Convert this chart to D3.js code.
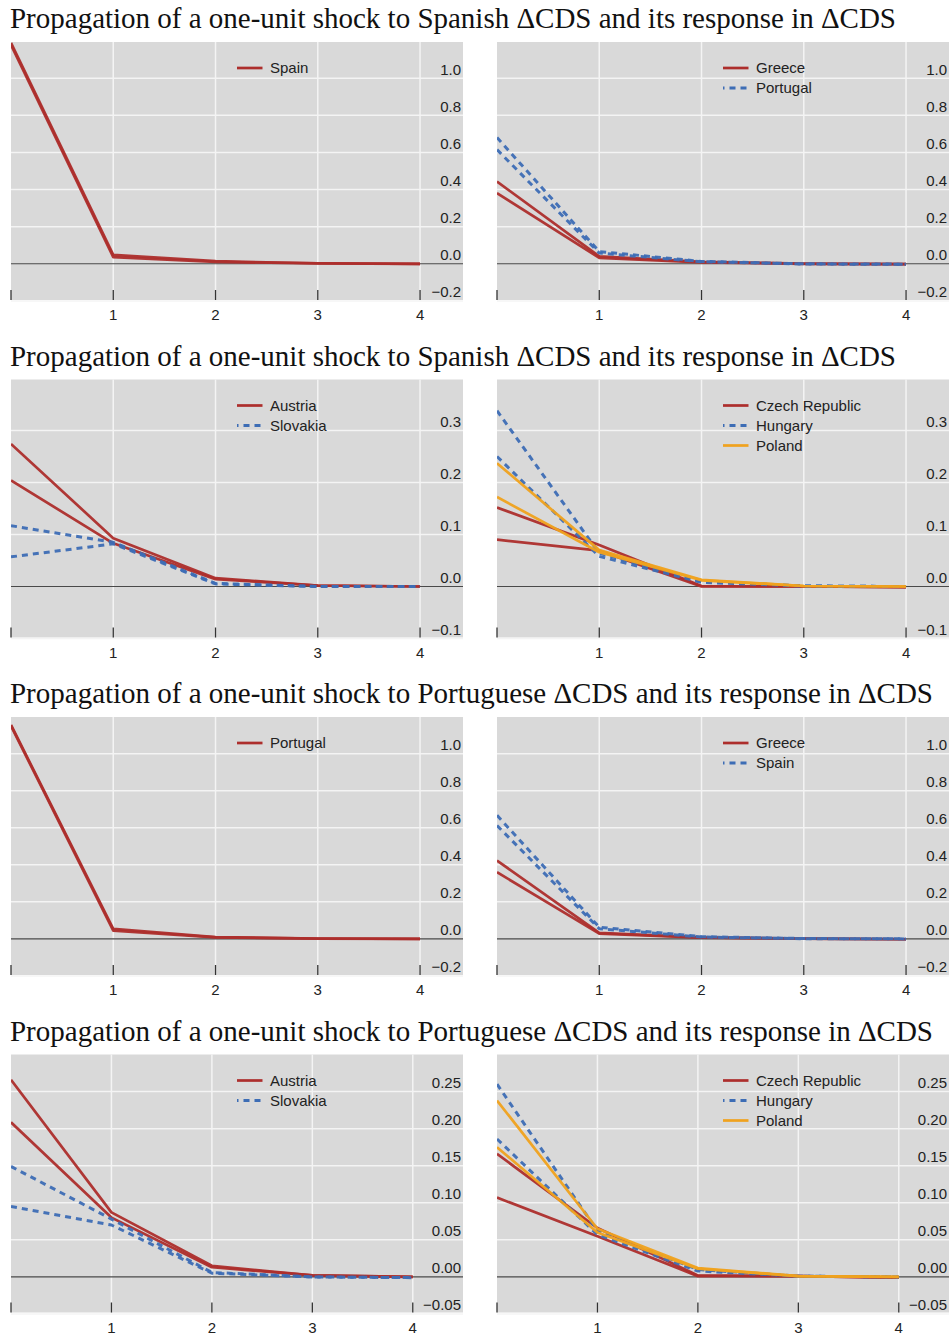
<!DOCTYPE html>
<html>
<head>
<meta charset="utf-8">
<script src="https://cdn.jsdelivr.net/npm/d3@7"></script>
<style>
  html, body { margin: 0; padding: 0; background: #ffffff; }
  svg { display: block; }
</style>
</head>
<body>
<svg id="chart" width="952" height="1336"></svg>
<script>
// ---------------- DATA ----------------
const horizons = [0, 1, 2, 3, 4];
const xTicks = [1, 2, 3, 4];

const titleSpain = "Propagation of a one-unit shock to Spanish \u0394CDS and its response in \u0394CDS";
const titlePortugal = "Propagation of a one-unit shock to Portuguese \u0394CDS and its response in \u0394CDS";

const yTicksLarge = [-0.2, 0.0, 0.2, 0.4, 0.6, 0.8, 1.0];
const yTicksSmall = [-0.1, 0.0, 0.1, 0.2, 0.3];
const yTicksFine = [-0.05, 0.00, 0.05, 0.10, 0.15, 0.20, 0.25];

// Shock to Spain
const esSpain = [[1.19, 0.048, 0.014, 0.003, 0.0], [1.18, 0.036, 0.010, 0.002, 0.0]];
const esGreece = [[0.443, 0.040, 0.010, 0.001, -0.002], [0.381, 0.032, 0.008, 0.0, -0.002]];
const esPortugal = [[0.68, 0.066, 0.013, 0.0, -0.002], [0.615, 0.058, 0.011, -0.001, -0.003]];
const esAustria = [[0.274, 0.093, 0.016, 0.002, 0.0], [0.204, 0.083, 0.014, 0.002, 0.0]];
const esSlovakia = [[0.117, 0.085, 0.006, 0.0, 0.0], [0.057, 0.082, 0.005, 0.0, 0.0]];
const esCzech = [[0.152, 0.080, 0.001, 0.0, -0.001], [0.090, 0.069, 0.0, 0.0, -0.001]];
const esHungary = [[0.338, 0.064, 0.010, 0.001, 0.0], [0.250, 0.058, 0.008, 0.001, 0.0]];
const esPoland = [[0.237, 0.070, 0.013, 0.001, 0.0], [0.172, 0.066, 0.012, 0.001, 0.0]];

// Shock to Portugal
const ptPortugal = [[1.155, 0.054, 0.010, 0.002, 0.0], [1.15, 0.045, 0.008, 0.001, 0.0]];
const ptGreece = [[0.423, 0.032, 0.008, 0.001, -0.002], [0.36, 0.028, 0.007, 0.001, -0.002]];
const ptSpain = [[0.667, 0.063, 0.012, 0.002, 0.0], [0.612, 0.055, 0.010, 0.001, 0.0]];
const ptAustria = [[0.266, 0.087, 0.015, 0.002, 0.0], [0.2085, 0.080, 0.013, 0.002, 0.0]];
const ptSlovakia = [[0.149, 0.078, 0.006, 0.0, -0.001], [0.095, 0.070, 0.005, 0.0, -0.001]];
const ptCzech = [[0.166, 0.066, 0.002, 0.001, -0.001], [0.107, 0.055, 0.001, 0.001, -0.001]];
const ptHungary = [[0.26, 0.062, 0.010, 0.001, 0.0], [0.186, 0.057, 0.008, 0.001, 0.0]];
const ptPoland = [[0.238, 0.065, 0.012, 0.001, 0.0], [0.175, 0.060, 0.011, 0.001, 0.0]];

// ---------------- STYLE ----------------
const RED = "#ad2e2c", BLUE = "#3d6db5", ORANGE = "#f0a21e";
const styles = {
  red: { color: RED, dash: null, width: 2.7 },
  blue: { color: BLUE, dash: "6,5", width: 3 },
  orange: { color: ORANGE, dash: null, width: 2.7 }
};

// panel configuration
const rows = [
  { title: titleSpain, titleW: 886, top: 42, yDomain: [-0.195, 1.195], yTicks: yTicksLarge, fmt: d3.format(".1f"), xMax: 4.42,
    panels: [
      [{ name: "Spain", style: "red", data: esSpain }],
      [{ name: "Greece", style: "red", data: esGreece }, { name: "Portugal", style: "blue", data: esPortugal }]
    ] },
  { title: titleSpain, titleW: 886, top: 379.5, yDomain: [-0.098, 0.398], yTicks: yTicksSmall, fmt: d3.format(".1f"), xMax: 4.42,
    panels: [
      [{ name: "Austria", style: "red", data: esAustria }, { name: "Slovakia", style: "blue", data: esSlovakia }],
      [{ name: "Czech Republic", style: "red", data: esCzech }, { name: "Hungary", style: "blue", data: esHungary }, { name: "Poland", style: "orange", data: esPoland }]
    ] },
  { title: titlePortugal, titleW: 923, top: 717, yDomain: [-0.195, 1.198], yTicks: yTicksLarge, fmt: d3.format(".1f"), xMax: 4.42,
    panels: [
      [{ name: "Portugal", style: "red", data: ptPortugal }],
      [{ name: "Greece", style: "red", data: ptGreece }, { name: "Spain", style: "blue", data: ptSpain }]
    ] },
  { title: titlePortugal, titleW: 923, top: 1054.5, yDomain: [-0.048, 0.300], yTicks: yTicksFine, fmt: d3.format(".2f"), xMax: 4.5,
    panels: [
      [{ name: "Austria", style: "red", data: ptAustria }, { name: "Slovakia", style: "blue", data: ptSlovakia }],
      [{ name: "Czech Republic", style: "red", data: ptCzech }, { name: "Hungary", style: "blue", data: ptHungary }, { name: "Poland", style: "orange", data: ptPoland }]
    ] }
];

const panelLefts = [11, 497];
const panelW = 452, panelH = 258;
const sansFont = "'Liberation Sans', Arial, Helvetica, sans-serif";
const serifFont = "'Liberation Serif', 'Times New Roman', serif";
const minus = s => s.replace("-", "\u2212");

const svg = d3.select("#chart");
let clipId = 0;

rows.forEach(row => {
  svg.append("text")
    .attr("x", 10).attr("y", row.top - 14)
    .attr("font-family", serifFont).attr("font-size", 28.5)
    .attr("textLength", row.titleW).attr("lengthAdjust", "spacingAndGlyphs")
    .attr("fill", "#111")
    .text(row.title);

  row.panels.forEach((series, pi) => {
    const left = panelLefts[pi];
    const x = d3.scaleLinear().domain([0, row.xMax]).range([left, left + panelW]);
    const y = d3.scaleLinear().domain(row.yDomain).range([row.top + panelH, row.top]);
    const g = svg.append("g");

    g.append("rect").attr("x", left).attr("y", row.top)
      .attr("width", panelW).attr("height", panelH).attr("fill", "#d9d9d9");

    // horizontal gridlines
    g.selectAll(".hg").data(row.yTicks.filter(t => t !== 0)).enter().append("line")
      .attr("x1", left).attr("x2", left + panelW)
      .attr("y1", d => y(d)).attr("y2", d => y(d))
      .attr("stroke", "#f4f4f4").attr("stroke-width", 1.5);
    // vertical gridlines
    g.selectAll(".vg").data(xTicks).enter().append("line")
      .attr("x1", d => x(d)).attr("x2", d => x(d))
      .attr("y1", row.top).attr("y2", row.top + panelH)
      .attr("stroke", "#f4f4f4").attr("stroke-width", 1.5);
    // zero line
    g.append("line").attr("x1", left).attr("x2", left + panelW)
      .attr("y1", y(0)).attr("y2", y(0))
      .attr("stroke", "#4a4a4a").attr("stroke-width", 1.1);

    // bottom tick marks
    g.selectAll(".tk").data(horizons).enter().append("line")
      .attr("x1", d => x(d)).attr("x2", d => x(d))
      .attr("y1", row.top + panelH - 10).attr("y2", row.top + panelH)
      .attr("stroke", "#333").attr("stroke-width", 1.3);

    // x tick labels
    g.selectAll(".xl").data(xTicks).enter().append("text")
      .attr("x", d => x(d)).attr("y", row.top + panelH + 20)
      .attr("text-anchor", "middle")
      .attr("font-family", sansFont).attr("font-size", 15).attr("fill", "#222")
      .text(d => d);

    // y tick labels (inside, right)
    g.selectAll(".yl").data(row.yTicks).enter().append("text")
      .attr("x", left + panelW - 2).attr("y", d => y(d) - 3.5)
      .attr("text-anchor", "end")
      .attr("font-family", sansFont).attr("font-size", 15).attr("fill", "#222")
      .text(d => minus(row.fmt(d)));

    // clip
    const cid = "clip" + (clipId++);
    svg.append("clipPath").attr("id", cid).append("rect")
      .attr("x", left).attr("y", row.top).attr("width", panelW).attr("height", panelH);

    const line = d3.line().x((d, i) => x(horizons[i])).y(d => y(d));
    const lg = g.append("g").attr("clip-path", `url(#${cid})`);
    series.forEach(s => {
      const st = styles[s.style];
      s.data.forEach(arr => {
        lg.append("path").datum(arr)
          .attr("d", line)
          .attr("fill", "none")
          .attr("stroke", st.color)
          .attr("stroke-width", st.width)
          .attr("stroke-linejoin", "round")
          .attr("stroke-dasharray", st.dash)
          .attr("opacity", 0.95);
      });
    });

    // legend
    const leg = g.append("g");
    series.forEach((s, i) => {
      const st = styles[s.style];
      const ly = row.top + 26 + i * 20;
      leg.append("line")
        .attr("x1", left + 226).attr("x2", left + 251.5)
        .attr("y1", ly).attr("y2", ly)
        .attr("stroke", st.color).attr("stroke-width", st.width)
        .attr("stroke-dasharray", st.dash)
        .attr("stroke-dashoffset", st.dash ? 4.5 : null);
      leg.append("text")
        .attr("x", left + 259).attr("y", ly + 5)
        .attr("font-family", sansFont).attr("font-size", 15).attr("fill", "#222")
        .text(s.name);
    });
  });
});
</script>
</body>
</html>
